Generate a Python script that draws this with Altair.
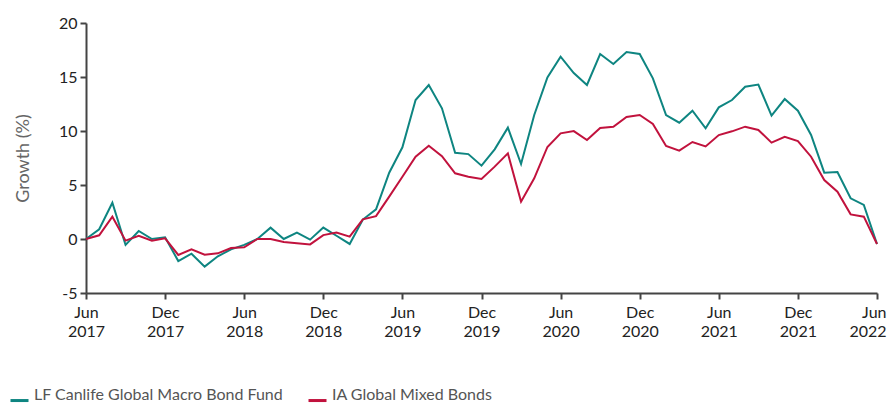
import json
import altair as alt
import pandas as pd

months = ["2017-06","2017-07","2017-08","2017-09","2017-10","2017-11","2017-12",
          "2018-01","2018-02","2018-03","2018-04","2018-05","2018-06","2018-07",
          "2018-08","2018-09","2018-10","2018-11","2018-12","2019-01","2019-02",
          "2019-03","2019-04","2019-05","2019-06","2019-07","2019-08","2019-09",
          "2019-10","2019-11","2019-12","2020-01","2020-02","2020-03","2020-04",
          "2020-05","2020-06","2020-07","2020-08","2020-09","2020-10","2020-11",
          "2020-12","2021-01","2021-02","2021-03","2021-04","2021-05","2021-06",
          "2021-07","2021-08","2021-09","2021-10","2021-11","2021-12","2022-01",
          "2022-02","2022-03","2022-04","2022-05","2022-06"]

fund = [0.0, 0.9, 3.36, -0.55, 0.74, 0.0, 0.15, -2.04, -1.36, -2.56, -1.6, -0.96,
        -0.55, 0.0, 1.05, 0.0, 0.6, -0.06, 1.06, 0.3, -0.46, 1.8, 2.75, 6.14,
        8.49, 12.87, 14.26, 12.1, 7.99, 7.86, 6.79, 8.3, 10.31, 6.94, 11.48,
        14.95, 16.88, 15.37, 14.26, 17.13, 16.2, 17.31, 17.13, 14.88, 11.48,
        10.77, 11.88, 10.25, 12.19, 12.87, 14.1, 14.3, 11.42, 12.96, 11.88,
        9.63, 6.14, 6.2, 3.77, 3.15, -0.46]

sector = [0.0, 0.34, 2.07, -0.15, 0.3, -0.15, 0.06, -1.48, -0.96, -1.45, -1.33,
          -0.83, -0.77, 0.0, 0.0, -0.28, -0.4, -0.5, 0.36, 0.59, 0.22, 1.82,
          2.12, 3.92, 5.77, 7.62, 8.64, 7.67, 6.08, 5.77, 5.56, 6.7, 7.93, 3.46,
          5.62, 8.52, 9.78, 9.99, 9.17, 10.28, 10.4, 11.3, 11.48, 10.65, 8.61,
          8.18, 8.98, 8.57, 9.62, 9.97, 10.4, 10.1, 8.92, 9.47, 9.07, 7.62,
          5.46, 4.38, 2.28, 2.07, -0.46]

series_names = ["LF Canlife Global Macro Bond Fund", "IA Global Mixed Bonds"]
series_colors = ["#0e8581", "#c1123d"]

tick_months = [0, 6, 12, 18, 24, 30, 36, 42, 48, 54, 60]
tick_labels = [["Jun", "2017"], ["Dec", "2017"], ["Jun", "2018"], ["Dec", "2018"],
               ["Jun", "2019"], ["Dec", "2019"], ["Jun", "2020"], ["Dec", "2020"],
               ["Jun", "2021"], ["Dec", "2021"], ["Jun", "2022"]]
y_ticks = [-5, 0, 5, 10, 15, 20]

rows = []
for i, m in enumerate(months):
    rows.append({"idx": i, "month": m, "series": series_names[0], "value": fund[i]})
    rows.append({"idx": i, "month": m, "series": series_names[1], "value": sector[i]})
df = pd.DataFrame(rows)

label_expr = json.dumps(tick_labels) + "[round(datum.value/6)]"
FONT = "Lato"
last_tick = f"datum.value == {tick_months[-1]}"

chart = alt.Chart(df).mark_line(strokeWidth=2).encode(
    x=alt.X("idx:Q", scale=alt.Scale(domain=[0, 60], nice=False, zero=False),
            axis=alt.Axis(values=tick_months, labelExpr=label_expr, title=None,
                          grid=False, domainColor="#444", domainWidth=2,
                          tickColor="#444", tickWidth=2, tickSize=6,
                          labelFont=FONT, labelFontSize=16, labelColor="#222",
                          labelLineHeight=19.5, labelPadding=5, labelFlush=False,
                          labelAlign={"condition": {"test": last_tick, "value": "right"},
                                      "value": "center"},
                          labelOffset={"condition": {"test": last_tick, "value": 9},
                                       "value": 0})),
    y=alt.Y("value:Q", scale=alt.Scale(domain=[-5, 20], nice=False),
            axis=alt.Axis(values=y_ticks, title="Growth (%)", grid=False,
                          labelExpr="'' + datum.value",
                          domainColor="#444", domainWidth=2,
                          tickColor="#444", tickWidth=2, tickSize=6,
                          labelFont=FONT, labelFontSize=16, labelColor="#222",
                          labelPadding=3,
                          titleFont=FONT, titleFontSize=18, titleColor="#666",
                          titleFontWeight="normal", titlePadding=26)),
    color=alt.Color("series:N",
                    scale=alt.Scale(domain=series_names, range=series_colors),
                    legend=alt.Legend(title=None, orient="none", direction="horizontal",
                                      legendX=-77, legendY=361, padding=0,
                                      symbolType="M-1,0.62L1,0.62", symbolSize=324,
                                      symbolStrokeWidth=3, labelOffset=4,
                                      columnPadding=18, labelLimit=500,
                                      labelFont=FONT, labelFontSize=16,
                                      labelColor="#555")),
    order="idx:Q",
).properties(
    width=791, height=270,
    autosize=alt.AutoSizeParams(type="none"),
    padding={"left": 78, "top": 15, "right": 10, "bottom": 110},
).configure_view(stroke=None)

chart.save("out.html", embed_options={"renderer": "svg", "actions": False})
